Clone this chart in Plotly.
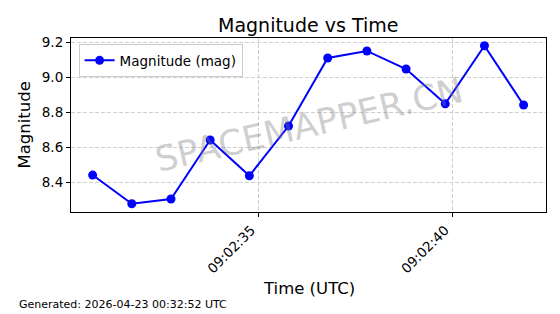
import plotly.graph_objects as go

times = [
    "2026-04-23 09:02:30.723", "2026-04-23 09:02:31.734", "2026-04-23 09:02:32.746",
    "2026-04-23 09:02:33.757", "2026-04-23 09:02:34.769", "2026-04-23 09:02:35.780",
    "2026-04-23 09:02:36.791", "2026-04-23 09:02:37.803", "2026-04-23 09:02:38.814",
    "2026-04-23 09:02:39.826", "2026-04-23 09:02:40.837", "2026-04-23 09:02:41.848",
]
magnitude = [8.44, 8.276, 8.303, 8.64, 8.436, 8.72, 9.109, 9.149, 9.046, 8.847, 9.179, 8.84]
x_tick_vals = ["2026-04-23 09:02:35", "2026-04-23 09:02:40"]
x_tick_text = ["09:02:35", "09:02:40"]
y_tick_vals = [8.4, 8.6, 8.8, 9.0, 9.2]

FONT = "DejaVu Sans"
W, H = 560, 314
L, R, T, B = 70.7, 14.3, 38.3, 101.7

fig = go.Figure()
fig.add_trace(go.Scatter(
    x=times, y=magnitude, mode="lines+markers", name="Magnitude (mag)",
    line=dict(color="#0000ff", width=2),
    marker=dict(color="#0000ff", size=9),
))

fig.update_layout(
    width=W, height=H,
    margin=dict(l=L, r=R, t=T, b=B, pad=0),
    paper_bgcolor="white", plot_bgcolor="white",
    font=dict(family=FONT, color="black", size=13.5),
    title=dict(text="Magnitude vs Time", x=(L + (W - R - L) / 2) / W, xref="container",
               xanchor="center", y=1 - 25 / H, yref="container", yanchor="middle",
               font=dict(size=19, family=FONT, color="black")),
    showlegend=True,
    legend=dict(x=0.016, y=0.965, xanchor="left", yanchor="top",
                bgcolor="rgba(255,255,255,0.8)", bordercolor="#cccccc", borderwidth=1,
                font=dict(size=13.5, family=FONT), itemwidth=30, tracegroupgap=0),
    xaxis=dict(
        type="date",
        range=["2026-04-23 09:02:30.165", "2026-04-23 09:02:42.426"],
        tickvals=x_tick_vals, ticktext=x_tick_text, tickangle=-45,
        ticklabelshift=-7,
        ticks="outside", ticklen=4, tickcolor="black", tickwidth=1,
        showline=True, linecolor="black", linewidth=1.1, mirror=True,
        showgrid=True, gridcolor="#cfcfcf", gridwidth=0.8, griddash="4px,2px",
        zeroline=False, tickfont=dict(size=13.5),
    ),
    yaxis=dict(
        range=[8.229, 9.223],
        tickvals=y_tick_vals, tickformat=".1f",
        ticks="outside", ticklen=4, tickcolor="black", tickwidth=1,
        showline=True, linecolor="black", linewidth=1.1, mirror=True,
        showgrid=True, gridcolor="#cfcfcf", gridwidth=0.8, griddash="4px,2px",
        zeroline=False, tickfont=dict(size=13.5),
    ),
    annotations=[
        dict(text="SPACEMAPPER.CN", x=0.5, y=0.5, xref="paper", yref="paper",
             showarrow=False, textangle=-13,
             font=dict(size=35, family=FONT, color="rgba(128,128,128,0.4)")),
        dict(text="Time (UTC)", x=(L + (W - R - L) / 2) / W, y=1 - 289 / H,
             xref="paper", yref="paper", showarrow=False, xanchor="center", yanchor="middle",
             font=dict(size=16.5, family=FONT)),
        dict(text="Magnitude", x=24.5 / W, y=1 - 125 / H, xref="paper", yref="paper",
             showarrow=False, xanchor="center", yanchor="middle", textangle=-90,
             font=dict(size=16.5, family=FONT)),
        dict(text="Generated: 2026-04-23 00:32:52 UTC", x=17 / W, y=1 - 305 / H,
             xref="paper", yref="paper", showarrow=False, xanchor="left", yanchor="middle",
             font=dict(size=11, family=FONT)),
    ],
)
# convert annotation positions given in page pixels to plot-area paper coords
for a in fig.layout.annotations[1:]:
    px = a.x * W
    py = (1 - a.y) * H
    a.x = (px - L) / (W - L - R)
    a.y = 1 - (py - T) / (H - T - B)

fig.write_html("out.html")
